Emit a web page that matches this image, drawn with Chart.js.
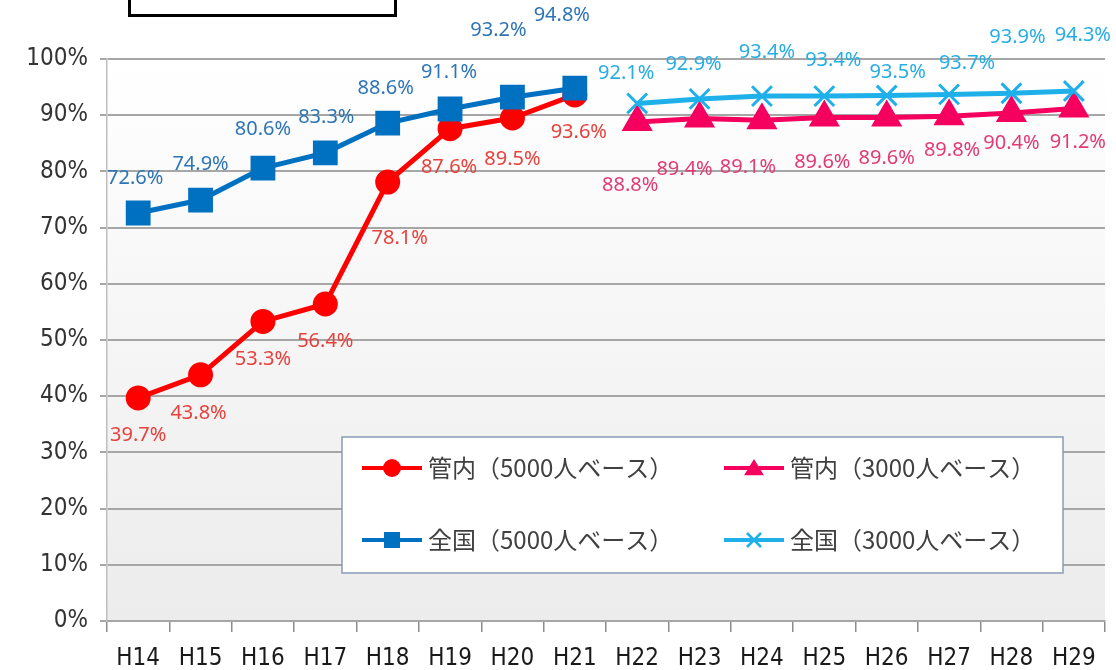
<!DOCTYPE html>
<html lang="ja">
<head>
<meta charset="utf-8">
<title>カバー率の推移</title>
<script src="https://cdn.jsdelivr.net/npm/chart.js@4/dist/chart.umd.min.js"></script>
<style>
  html, body { margin: 0; padding: 0; background: #fff; }
  .wrap { position: relative; width: 1116px; height: 670px; overflow: hidden; }
  .title-box {
    position: absolute; left: 128px; top: -4px; width: 263px; height: 15px;
    border: 3px solid #000; background: #fff;
  }
</style>
</head>
<body>
<div class="wrap">
  <canvas id="chart" width="1116" height="670"></canvas>
  <div class="title-box"></div>
</div>
<script>
/* ---------- data ---------- */
const years = ['H14','H15','H16','H17','H18','H19','H20','H21',
               'H22','H23','H24','H25','H26','H27','H28','H29'];

const kannai5000  = [39.7, 43.8, 53.3, 56.4, 78.1, 87.6, 89.5, 93.6,
                     null, null, null, null, null, null, null, null];
const zenkoku5000 = [72.6, 74.9, 80.6, 83.3, 88.6, 91.1, 93.2, 94.8,
                     null, null, null, null, null, null, null, null];
const kannai3000  = [null, null, null, null, null, null, null, null,
                     88.8, 89.4, 89.1, 89.6, 89.6, 89.8, 90.4, 91.2];
const zenkoku3000 = [null, null, null, null, null, null, null, null,
                     92.1, 92.9, 93.4, 93.4, 93.5, 93.7, 93.9, 94.3];

const yTicks = [0, 10, 20, 30, 40, 50, 60, 70, 80, 90, 100];

/* ---------- styling ---------- */
const C_RED   = '#ff0000';
const C_BLUE  = '#0070c0';
const C_PINK  = '#f5005f';
const C_CYAN  = '#1fb0ea';
const AXIS_FONT = "'Liberation Sans Narrow', 'DejaVu Sans Condensed', 'Liberation Sans', sans-serif";
const LBL_FONT  = "'Noto Sans', 'Open Sans', sans-serif";
const CJK_FONT  = "'Noto Sans CJK JP', 'Noto Sans', sans-serif";

// label placement (dx, dy from the point), per dataset
const labelOffsets = [
  [[0,37],[-2,38],[0,38],[0,37],[12,56],[-1,39],[0,41],[4,37]],
  [[-3,-35],[0,-36],[0,-39],[1,-36],[-2,-35],[-1,-37],[-14,-67],[-13,-73]],
  [[-7,63],[-15,51],[-14,47],[-2,45],[0,41],[3,34],[0,30],[4,34]],
  [[-11,-30],[-6,-35],[5,-44],[9,-36],[11,-23],[18,-31],[6,-56],[9,-56]]
];
const labelColors = ['#e8413c', '#2e75b6', '#e23a75', '#27ade6'];

function drawMarker(ctx, style, x, y, r, color) {
  ctx.save();
  ctx.fillStyle = color;
  ctx.strokeStyle = color;
  ctx.beginPath();
  if (style === 'circle') {
    ctx.arc(x, y, r, 0, Math.PI * 2);
    ctx.fill();
  } else if (style === 'rect') {
    ctx.fillRect(x - r, y - r, r * 2, r * 2);
  } else if (style === 'triangle') {
    ctx.moveTo(x, y - r);
    ctx.lineTo(x + r * 1.1, y + r * 0.8);
    ctx.lineTo(x - r * 1.1, y + r * 0.8);
    ctx.closePath();
    ctx.fill();
  } else if (style === 'crossRot') {
    ctx.lineWidth = 2.5;
    ctx.moveTo(x - r, y - r); ctx.lineTo(x + r, y + r);
    ctx.moveTo(x + r, y - r); ctx.lineTo(x - r, y + r);
    ctx.stroke();
  }
  ctx.restore();
}

const plotBg = {
  id: 'plotBg',
  beforeDraw(chart) {
    const { ctx, chartArea: a } = chart;
    const g = ctx.createLinearGradient(0, a.top, 0, a.bottom);
    g.addColorStop(0, '#ffffff');
    g.addColorStop(1, '#ececec');
    ctx.save();
    ctx.fillStyle = g;
    ctx.fillRect(a.left, a.top, a.right - a.left, a.bottom - a.top);
    ctx.restore();
  }
};

const pointLabels = {
  id: 'pointLabels',
  afterDatasetsDraw(chart) {
    const ctx = chart.ctx;
    ctx.save();
    ctx.font = '20px ' + LBL_FONT;
    ctx.textAlign = 'center';
    ctx.textBaseline = 'middle';
    chart.data.datasets.forEach((ds, di) => {
      const meta = chart.getDatasetMeta(di);
      let k = 0;
      ds.data.forEach((v, i) => {
        if (v == null) return;
        const p = meta.data[i];
        const off = labelOffsets[di][k++] || [0, -30];
        ctx.fillStyle = labelColors[di];
        ctx.fillText(v.toFixed(1) + '%', p.x + off[0], p.y + off[1]);
      });
    });
    ctx.restore();
  }
};

const boxLegend = {
  id: 'boxLegend',
  afterDraw(chart) {
    const ctx = chart.ctx;
    const box = { x: 342, y: 437, w: 721, h: 136 };
    ctx.save();
    ctx.fillStyle = '#ffffff';
    ctx.fillRect(box.x, box.y, box.w, box.h);
    ctx.strokeStyle = '#8a9bb5';
    ctx.lineWidth = 1.5;
    ctx.strokeRect(box.x, box.y, box.w, box.h);

    const slots = [
      { di: 0, x: 362, y: 468 },
      { di: 2, x: 724, y: 468 },
      { di: 1, x: 362, y: 540 },
      { di: 3, x: 724, y: 540 }
    ];
    const sizes = { circle: 9, rect: 8, triangle: 9, crossRot: 7 };
    slots.forEach(s => {
      const ds = chart.data.datasets[s.di];
      ctx.strokeStyle = ds.borderColor;
      ctx.lineWidth = 4;
      ctx.beginPath();
      ctx.moveTo(s.x, s.y);
      ctx.lineTo(s.x + 60, s.y);
      ctx.stroke();
      drawMarker(ctx, ds.pointStyle, s.x + 30, s.y, sizes[ds.pointStyle], ds.borderColor);
      ctx.fillStyle = '#404040';
      ctx.font = '24px ' + CJK_FONT;
      ctx.textAlign = 'left';
      ctx.textBaseline = 'middle';
      ctx.fillText(ds.label, s.x + 66, s.y);
    });
    ctx.restore();
  }
};

new Chart(document.getElementById('chart'), {
  type: 'line',
  data: {
    labels: years,
    datasets: [
      { label: '管内（5000人ベース）', data: kannai5000, borderColor: C_RED, backgroundColor: C_RED,
        pointStyle: 'circle', pointRadius: 10, borderWidth: 5, order: 2 },
      { label: '全国（5000人ベース）', data: zenkoku5000, borderColor: C_BLUE, backgroundColor: C_BLUE,
        pointStyle: 'rect', pointRadius: 14, borderWidth: 5, order: 1 },
      { label: '管内（3000人ベース）', data: kannai3000, borderColor: C_PINK, backgroundColor: C_PINK,
        pointStyle: 'triangle', pointRadius: 13, borderWidth: 5, order: 4 },
      { label: '全国（3000人ベース）', data: zenkoku3000, borderColor: C_CYAN, backgroundColor: C_CYAN,
        pointStyle: 'crossRot', pointRadius: 14, borderWidth: 5, pointBorderWidth: 3, order: 3 }
    ]
  },
  options: {
    responsive: false,
    animation: false,
    spanGaps: false,
    layout: { autoPadding: false, padding: { top: 59, right: 11, left: 0, bottom: 0 } },
    plugins: { legend: { display: false }, tooltip: { enabled: false } },
    elements: { line: { tension: 0 }, point: { hoverRadius: 10 } },
    scales: {
      x: {
        offset: true,
        grid: { offset: true, drawOnChartArea: false, drawTicks: true, tickLength: 11, color: '#8c8c8c', lineWidth: 1.5 },
        border: { color: '#a6a6a6', width: 2 },
        ticks: { color: '#1a1a1a', font: { size: 24, family: AXIS_FONT }, padding: 12, maxRotation: 0, autoSkip: false },
        afterFit: s => { s.height = 49; s.paddingLeft = 0; s.paddingRight = 0; }
      },
      y: {
        min: 0, max: 100,
        afterBuildTicks: s => { s.ticks = yTicks.map(v => ({ value: v })); },
        grid: { color: '#a6a6a6', lineWidth: 2, tickLength: 7 },
        border: { color: '#bfbfbf', width: 1.5 },
        ticks: { color: '#333333', font: { size: 24, family: AXIS_FONT }, padding: 12,
                 callback: v => v + '%' },
        afterFit: s => { s.width = 107; s.paddingTop = 0; s.paddingBottom = 0; }
      }
    }
  },
  plugins: [plotBg, pointLabels, boxLegend]
});
</script>
</body>
</html>
